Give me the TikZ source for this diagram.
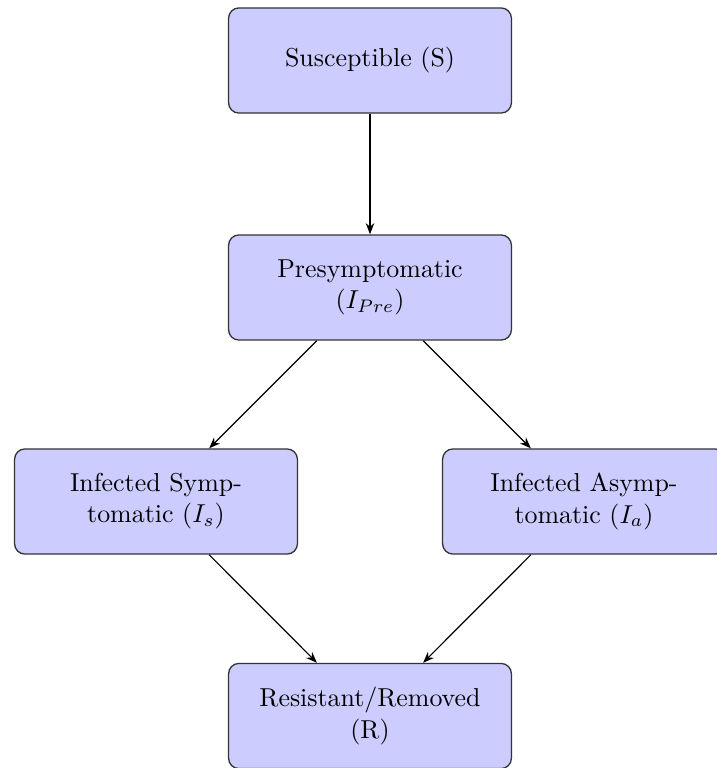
\documentclass[tikz,border=0pt]{standalone}
\usetikzlibrary{arrows.meta}
\begin{document}
\begin{tikzpicture}[x=0.3861pt,y=-0.3861pt,
  stage/.style={draw=black!80, fill=blue!20, rounded corners=4pt, line width=0.5pt,
    minimum width=109.2pt, minimum height=40.6pt, align=center, inner sep=2pt},
  flow/.style={-{Stealth[length=4.3pt,width=3.3pt]}, line width=0.45pt}]
\useasboundingbox (0,0) rectangle (716,768);
\node[stage] (S) at (370,60.5) {Susceptible (S)};
\node[stage] (P) at (370,287.5) {Presymptomatic\\($I_{Pre}$)};
\node[stage] (Is) at (156,501.5) {Infected Symp-\\tomatic ($I_s$)};
\node[stage] (Ia) at (584,501.5) {Infected Asymp-\\tomatic ($I_a$)};
\node[stage] (R) at (370,716) {Resistant/Removed\\(R)};
\draw[flow] (S) -- (P);
\draw[flow] (P) -- (Is);
\draw[flow] (P) -- (Ia);
\draw[flow] (Is) -- (R);
\draw[flow] (Ia) -- (R);
\end{tikzpicture}
\end{document}
